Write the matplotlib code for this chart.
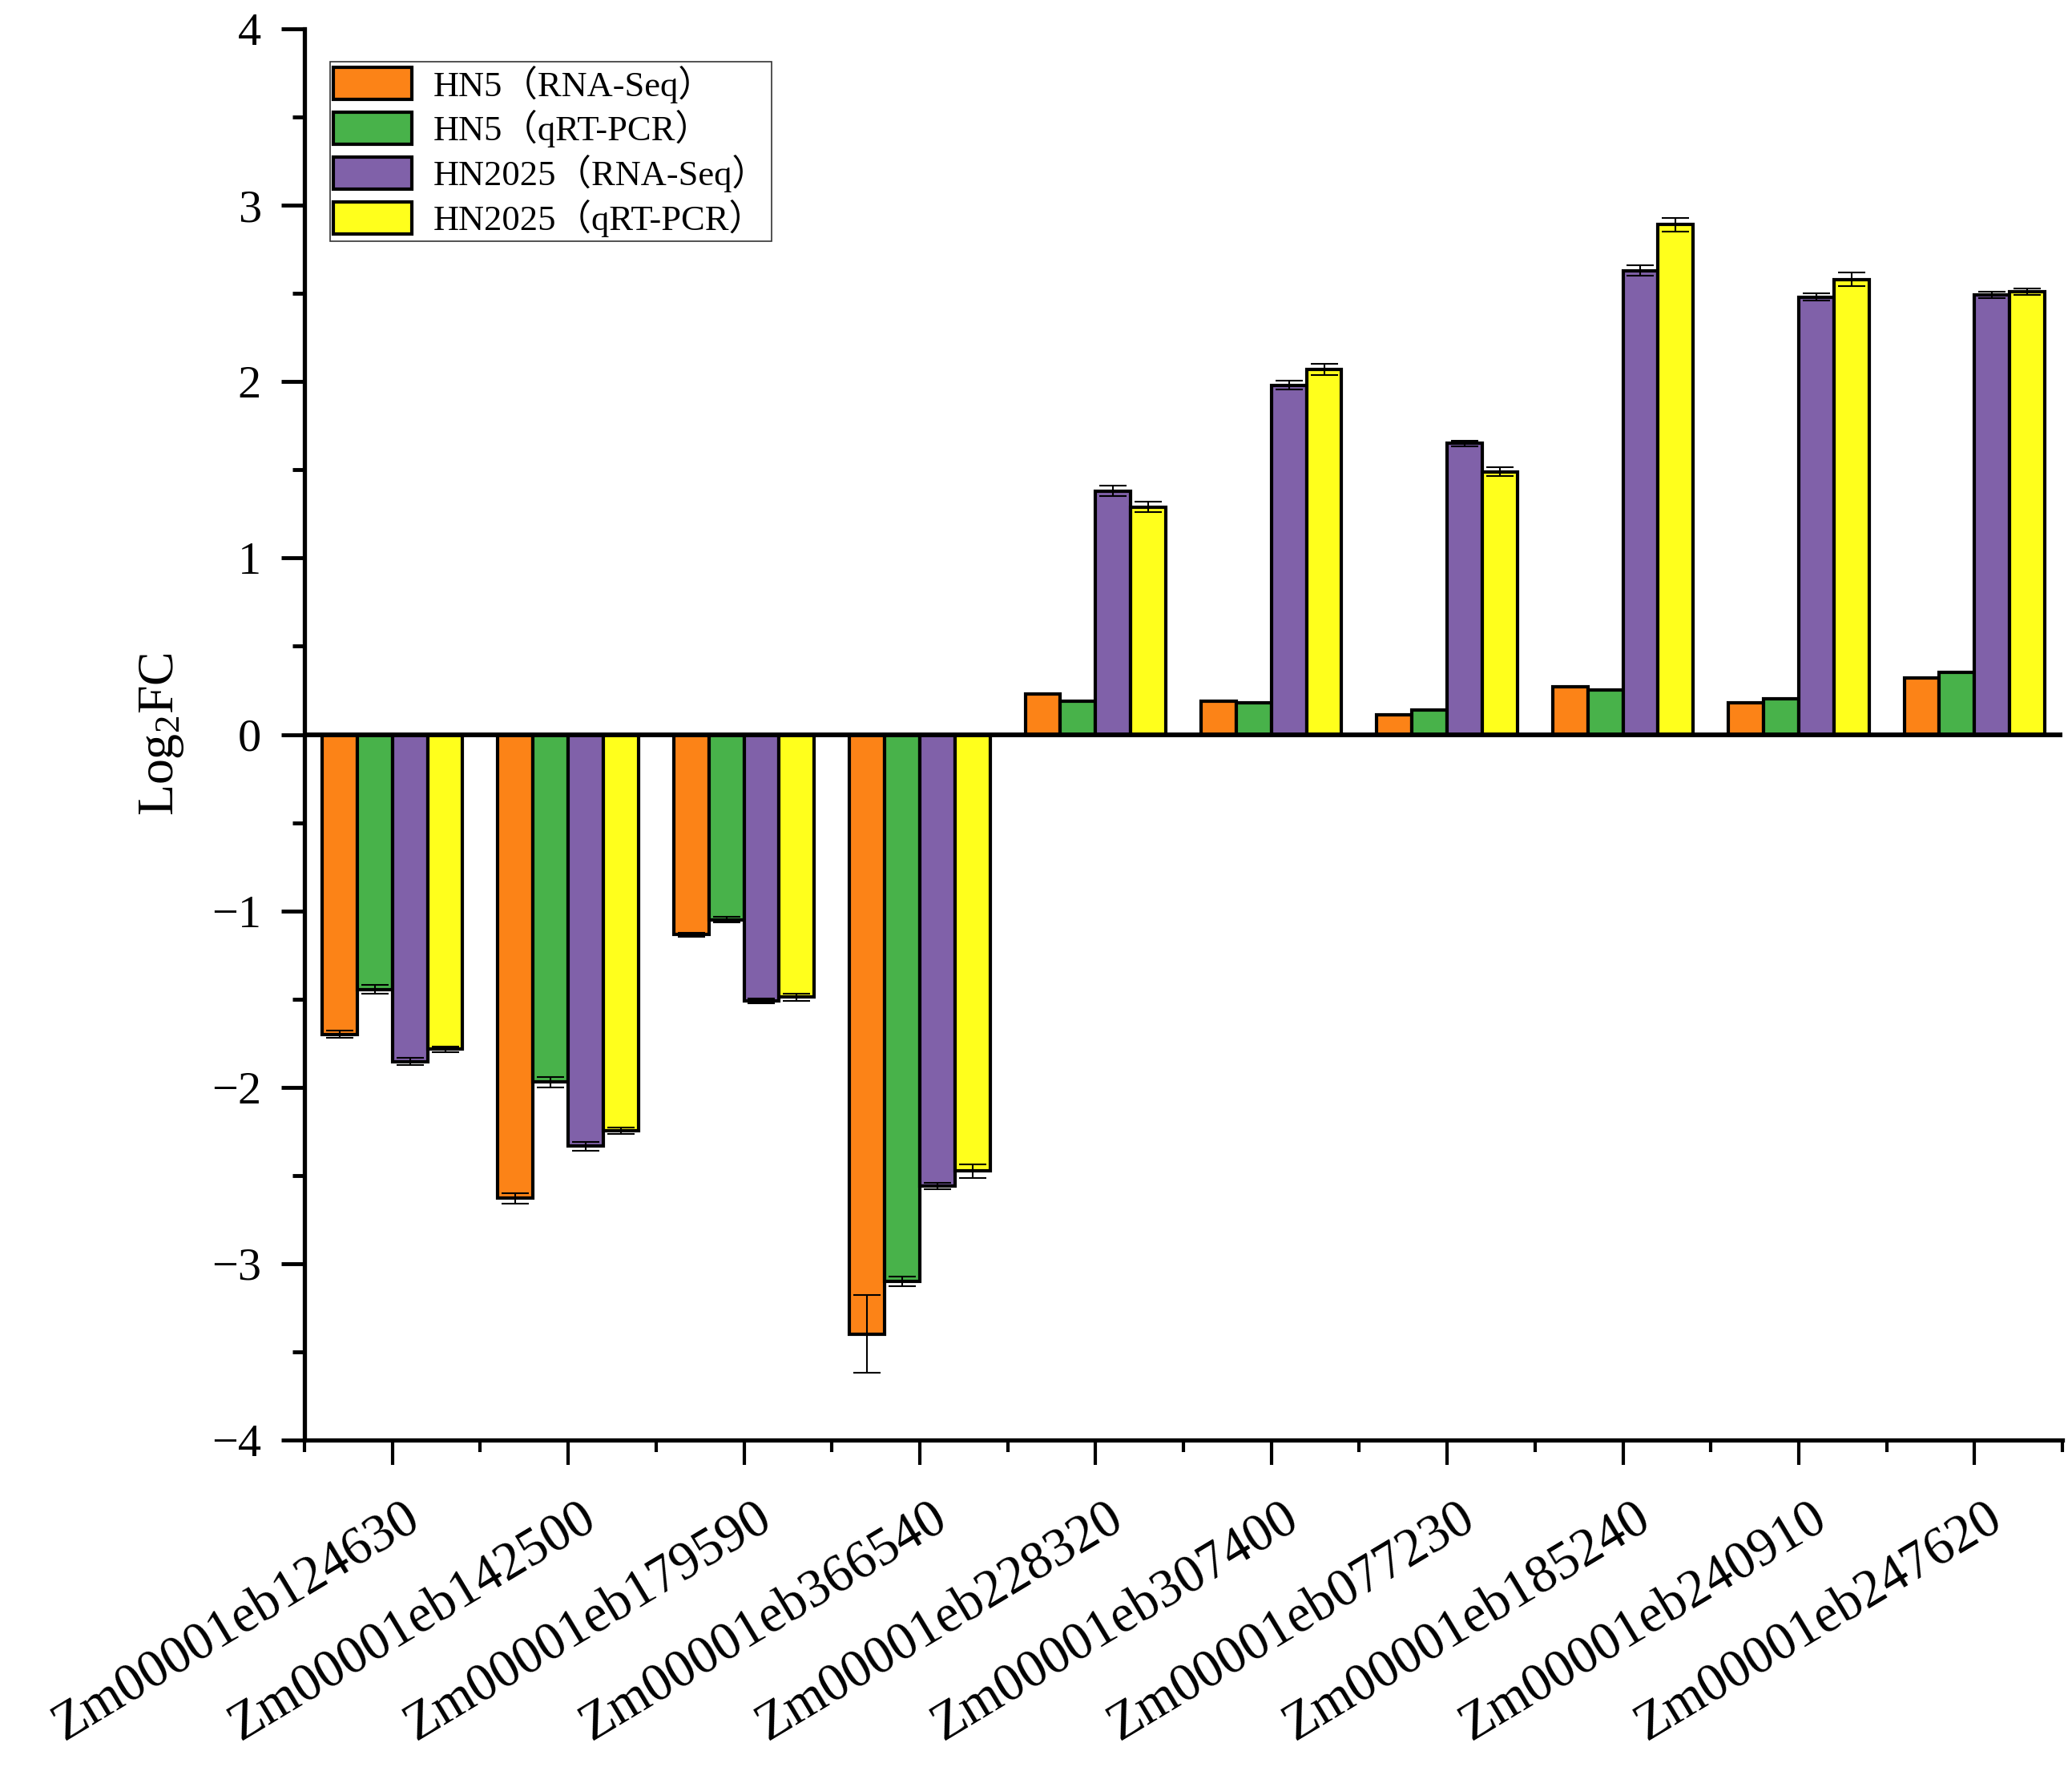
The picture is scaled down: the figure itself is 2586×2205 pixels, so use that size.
import matplotlib
matplotlib.use("Agg")
import matplotlib.pyplot as plt
import matplotlib.transforms as mtransforms
from matplotlib.ticker import MultipleLocator, FixedLocator
import numpy as np

plt.rcParams.update({"font.family": ["Liberation Serif", "Noto Sans CJK SC"],
                     "axes.unicode_minus": True,
                     "mathtext.fontset": "custom",
                     "mathtext.rm": "Liberation Serif",
                     "mathtext.it": "Liberation Serif:italic"})

genes = ["Zm00001eb124630", "Zm00001eb142500", "Zm00001eb179590", "Zm00001eb366540",
         "Zm00001eb228320", "Zm00001eb307400", "Zm00001eb077230", "Zm00001eb185240",
         "Zm00001eb240910", "Zm00001eb247620"]
series = ["HN5（RNA-Seq）", "HN5（qRT-PCR）", "HN2025（RNA-Seq）", "HN2025（qRT-PCR）"]
colors = ["#FC8317", "#48B24A", "#8061A9", "#FFFF1C"]

hn5_rna = [-1.70, -2.63, -1.135, -3.40, 0.23, 0.19, 0.11, 0.27, 0.18, 0.32]
hn5_qpcr = [-1.445, -1.97, -1.05, -3.10, 0.19, 0.18, 0.14, 0.25, 0.20, 0.35]
hn2025_rna = [-1.855, -2.335, -1.51, -2.56, 1.38, 1.98, 1.65, 2.63, 2.48, 2.49]
hn2025_qpcr = [-1.785, -2.245, -1.49, -2.475, 1.29, 2.07, 1.49, 2.89, 2.58, 2.51]

hn5_rna_err = [0.02, 0.03, 0.01, 0.22, 0, 0, 0, 0, 0, 0]
hn5_qpcr_err = [0.025, 0.03, 0.017, 0.027, 0, 0, 0, 0, 0, 0]
hn2025_rna_err = [0.02, 0.025, 0.014, 0.02, 0.03, 0.024, 0.017, 0.028, 0.022, 0.018]
hn2025_qpcr_err = [0.015, 0.018, 0.02, 0.04, 0.03, 0.033, 0.027, 0.04, 0.037, 0.018]

vals = [hn5_rna, hn5_qpcr, hn2025_rna, hn2025_qpcr]
errs = [hn5_rna_err, hn5_qpcr_err, hn2025_rna_err, hn2025_qpcr_err]

W, H = 2586, 2205
fig = plt.figure(figsize=(W / 100, H / 100), dpi=100)
ax = fig.add_axes([380 / W, 1 - 1797 / H, 2194 / W, 1761 / H])

x = np.arange(len(genes))
bw = 0.2
for i in range(4):
    xs = x + (i - 1.5) * bw
    ax.bar(xs, vals[i], bw, color=colors[i], edgecolor="black", linewidth=3.0,
           label=series[i], zorder=2)
    ax.errorbar(xs, vals[i], yerr=errs[i], fmt="none", ecolor="black",
                elinewidth=1.5, capsize=12, capthick=1.5, zorder=3)

ax.axhline(0, color="black", linewidth=4.2, zorder=4)

ax.set_xlim(-0.5, 9.5)
ax.set_ylim(-4, 4)
for s in ["top", "right"]:
    ax.spines[s].set_visible(False)
for s in ["left", "bottom"]:
    ax.spines[s].set_linewidth(3.8)

ax.yaxis.set_major_locator(MultipleLocator(1))
ax.yaxis.set_minor_locator(MultipleLocator(0.5))
ax.xaxis.set_major_locator(FixedLocator(x))
ax.xaxis.set_minor_locator(FixedLocator(np.arange(-0.5, 10, 1.0)))
ax.tick_params(axis="y", which="major", length=21, width=3.5, pad=18, labelsize=42)
ax.tick_params(axis="y", which="minor", length=11, width=3.5)
ax.tick_params(axis="x", which="major", length=22, width=3, pad=26)
ax.tick_params(axis="x", which="minor", length=11, width=3)

ax.set_xticklabels(genes, rotation=31, ha="right", va="top",
                   rotation_mode="anchor", fontsize=48)
off = mtransforms.ScaledTranslation(14 / 100, 0, fig.dpi_scale_trans)
for lb in ax.get_xticklabels():
    lb.set_transform(lb.get_transform() + off)

ax.set_ylabel(r"Log$_{\mathrm{2}}$FC", fontsize=46)
ax.yaxis.set_label_coords(-(380 - 232) / 2194, 0.5)

leg = ax.legend(loc="upper left", bbox_to_anchor=(0.0146, 0.9767), borderaxespad=0,
                fontsize=32, frameon=True, fancybox=False, edgecolor="black",
                handlelength=2.2, handleheight=1.0, handletextpad=0.6,
                labelspacing=0.2, borderpad=0.1)
leg.get_frame().set_linewidth(1.2)
for p in leg.get_patches():
    p.set_linewidth(3)

fig.savefig("out.png", dpi=100, facecolor="white")
